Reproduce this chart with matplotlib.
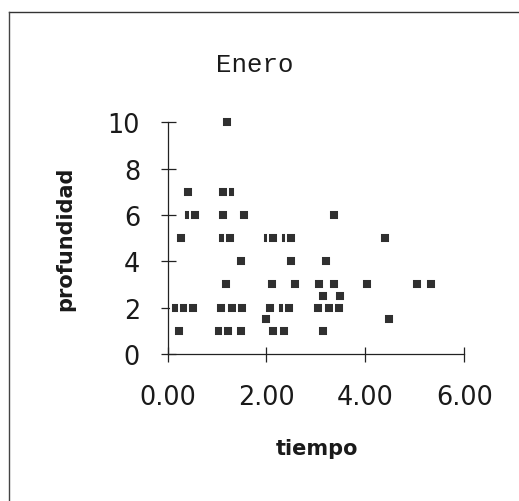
import matplotlib
matplotlib.use('Agg')
import matplotlib.pyplot as plt
from matplotlib.lines import Line2D

# ---- data ----
tiempo = [1.20,
          0.42, 1.27, 1.13,
          0.44, 0.56, 1.12, 1.55, 3.36,
          0.27, 1.13, 1.27, 2.04, 2.13, 2.39, 2.50, 4.39,
          1.49, 2.50, 3.21,
          1.18, 2.11, 2.57, 3.06, 3.36, 4.03, 5.04, 5.32,
          3.14, 3.48,
          0.17, 0.34, 0.51, 1.08, 1.30, 1.51, 2.08, 2.33, 2.46, 3.05, 3.26, 3.46,
          2.00, 4.47,
          0.24, 1.04, 1.23, 1.49, 2.13, 2.36, 3.15]
profundidad = [10,
               7, 7, 7,
               6, 6, 6, 6, 6,
               5, 5, 5, 5, 5, 5, 5, 5,
               4, 4, 4,
               3, 3, 3, 3, 3, 3, 3, 3,
               2.5, 2.5,
               2, 2, 2, 2, 2, 2, 2, 2, 2, 2, 2, 2,
               1.5, 1.5,
               1, 1, 1, 1, 1, 1, 1]

x_ticks = [0, 2, 4, 6]
x_ticklabels = ['0.00', '2.00', '4.00', '6.00']
y_ticks = [0, 2, 4, 6, 8, 10]
y_ticklabels = ['0', '2', '4', '6', '8', '10']

title = 'Enero'
xlabel = 'tiempo'
ylabel = 'profundidad'

W, H = 519, 502
fig = plt.figure(figsize=(W / 100, H / 100), dpi=100)
fig.patch.set_facecolor('white')

x0, x1 = 167.5, 464.3
y0, y1 = 355.0, 123.3
ax = fig.add_axes([x0 / W, (H - y0) / H, (x1 - x0) / W, (y0 - y1) / H])
ax.set_xlim(0, 6)
ax.set_ylim(0, 10)

ink = '#222222'
ax.plot(tiempo, profundidad, linestyle='none', marker='s', markersize=7,
        markerfacecolor='#303030', markeredgecolor='white',
        markeredgewidth=1.4, clip_on=False, zorder=3)

for s in ['top', 'right']:
    ax.spines[s].set_visible(False)
for s in ['left', 'bottom']:
    ax.spines[s].set_color(ink)
    ax.spines[s].set_linewidth(0.9)

ax.set_xticks(x_ticks)
ax.set_xticklabels(x_ticklabels)
ax.set_yticks(y_ticks)
ax.set_yticklabels(y_ticklabels)
ax.tick_params(axis='both', direction='inout', length=10.8, width=0.9,
               color=ink, labelcolor='#1a1a1a', labelsize=18.4)
ax.tick_params(axis='y', pad=14.4)
ax.tick_params(axis='x', pad=16.5)
for lab in ax.get_xticklabels() + ax.get_yticklabels():
    lab.set_family('DejaVu Sans')

fig.text(255 / W, (H - 72) / H, title, family='Liberation Mono', fontsize=18.5,
         ha='center', va='baseline', color='#1a1a1a')
fig.text(316.7 / W, (H - 449) / H, xlabel, family='DejaVu Sans', fontweight='bold',
         fontsize=15, ha='center', va='center', color='#1a1a1a')
fig.text(65 / W, (H - 238.5) / H, ylabel, family='DejaVu Sans', fontweight='bold',
         fontsize=15, rotation=90, ha='center', va='center', color='#1a1a1a')

# scanned page frame (top and left edges)
fig.add_artist(Line2D([9 / W, 1.0], [(H - 13) / H, (H - 13) / H],
                      transform=fig.transFigure, color='#333333', linewidth=1.0))
fig.add_artist(Line2D([9 / W, 9 / W], [(H - 13) / H, 0.0],
                      transform=fig.transFigure, color='#444444', linewidth=1.0))

fig.savefig('out.png', dpi=100, facecolor='white')
